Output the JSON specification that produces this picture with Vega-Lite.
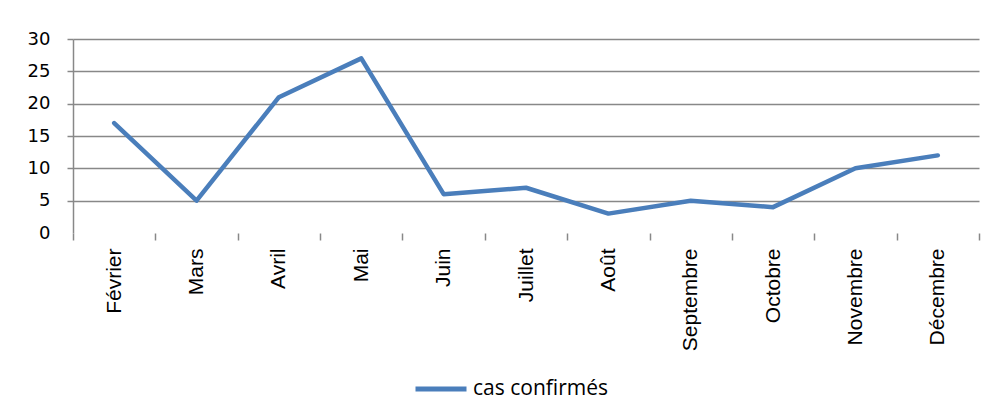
{
  "$schema": "https://vega.github.io/schema/vega-lite/v6.json",
  "autosize": {"type": "none"},
  "width": 906,
  "height": 194,
  "padding": {"left": 73, "top": 39, "right": 13, "bottom": 187},
  "background": "white",
  "config": {"view": {"stroke": null}},
  "data": {
    "values": [
      {"mois": "Février", "cas": 17, "serie": "cas confirmés"},
      {"mois": "Mars", "cas": 5, "serie": "cas confirmés"},
      {"mois": "Avril", "cas": 21, "serie": "cas confirmés"},
      {"mois": "Mai", "cas": 27, "serie": "cas confirmés"},
      {"mois": "Juin", "cas": 6, "serie": "cas confirmés"},
      {"mois": "Juillet", "cas": 7, "serie": "cas confirmés"},
      {"mois": "Août", "cas": 3, "serie": "cas confirmés"},
      {"mois": "Septembre", "cas": 5, "serie": "cas confirmés"},
      {"mois": "Octobre", "cas": 4, "serie": "cas confirmés"},
      {"mois": "Novembre", "cas": 10, "serie": "cas confirmés"},
      {"mois": "Décembre", "cas": 12, "serie": "cas confirmés"}
    ]
  },
  "mark": {"type": "line", "strokeWidth": 4.5, "strokeJoin": "round", "strokeCap": "round"},
  "encoding": {
    "x": {
      "field": "mois",
      "type": "ordinal",
      "sort": null,
      "scale": {"type": "band", "paddingInner": 0, "paddingOuter": 0},
      "axis": {
        "title": null,
        "domain": false,
        "tickBand": "extent",
        "ticks": true,
        "tickSize": 7,
        "tickWidth": 1.5,
        "tickColor": "#888888",
        "grid": false,
        "labelAngle": -90,
        "labelAlign": "right",
        "labelBaseline": "middle",
        "labelPadding": 8,
        "labelFont": "Liberation Sans",
        "labelFontSize": 21,
        "labelColor": "#000000",
        "labelOverlap": false
      }
    },
    "y": {
      "field": "cas",
      "type": "quantitative",
      "scale": {"domain": [0, 30], "nice": false},
      "axis": {
        "title": null,
        "values": [0, 5, 10, 15, 20, 25, 30],
        "domain": true,
        "domainColor": "#888888",
        "domainWidth": 1.5,
        "ticks": true,
        "tickSize": 6,
        "tickColor": "#888888",
        "tickWidth": 1.5,
        "tickOpacity": {"condition": {"test": "datum.value === 0", "value": 0}, "value": 1},
        "grid": true,
        "gridColor": "#888888",
        "gridWidth": 1.5,
        "gridOpacity": {"condition": {"test": "datum.value === 0", "value": 0}, "value": 1},
        "labelPadding": 17,
        "labelFont": "DejaVu Sans",
        "labelFontSize": 18,
        "labelColor": "#000000"
      }
    },
    "color": {
      "field": "serie",
      "type": "nominal",
      "scale": {"range": ["#4A7EBB"]},
      "legend": {
        "title": null,
        "orient": "none",
        "legendX": 340,
        "legendY": 322,
        "symbolType": "stroke",
        "symbolSize": 2601,
        "symbolStrokeWidth": 5,
        "labelFont": "Open Sans",
        "labelFontSize": 21,
        "labelColor": "#000000",
        "labelOffset": 4
      }
    }
  }
}
